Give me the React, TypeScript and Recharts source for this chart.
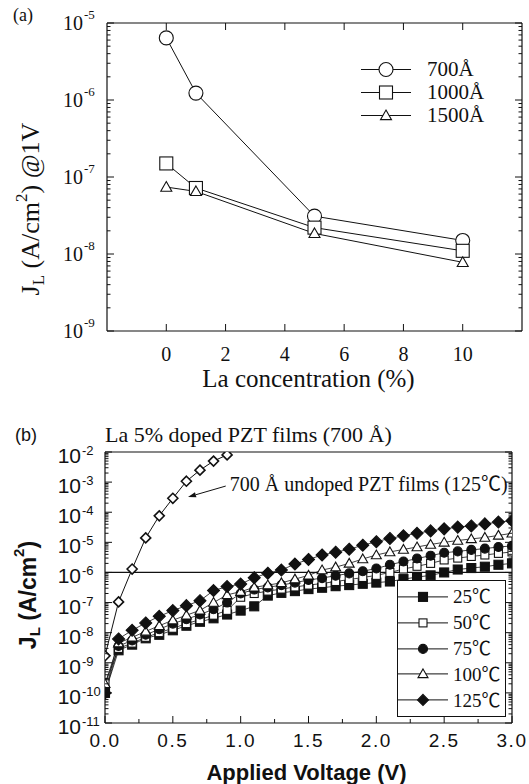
import React from "react";
import { LineChart, Line, XAxis, YAxis, Legend, ReferenceLine, Label } from "recharts";

const INK = "#111";
const SERIF = '"Liberation Serif", "Times New Roman", "Noto Sans CJK SC", serif';
const SANS = '"Liberation Sans", Arial, sans-serif';

// ---- (a) leakage current at 1V vs La content ----
const laConc = [0, 1, 5, 10];
const j700 = [6.4e-6, 1.23e-6, 3.1e-8, 1.5e-8];
const j1000 = [1.5e-7, 7.2e-8, 2.2e-8, 1.1e-8];
const j1500 = [7.4e-8, 6.5e-8, 1.85e-8, 7.8e-9];
const thickLabels = ["700Å", "1000Å", "1500Å"];
const aDecades = [1e-9, 1e-8, 1e-7, 1e-6, 1e-5];
const aXTicks = [0, 2, 4, 6, 8, 10];

// ---- (b) J-V of La 5% doped films at several temperatures ----
const voltage = [
  0, 0.1, 0.2, 0.3, 0.4, 0.5, 0.6, 0.7, 0.8, 0.9, 1.0, 1.1, 1.2, 1.3, 1.4, 1.5,
  1.6, 1.7, 1.8, 1.9, 2.0, 2.1, 2.2, 2.3, 2.4, 2.5, 2.6, 2.7, 2.8, 2.9, 3.0,
];
const t25 = [
  1e-10, 2.6e-9, 4e-9, 6.5e-9, 8.5e-9, 1.2e-8, 1.7e-8, 2.3e-8, 3e-8, 4e-8, 5.4e-8,
  7.5e-8, 1.7e-7, 2.1e-7, 2.4e-7, 2.8e-7, 3.1e-7, 3.5e-7, 3.8e-7, 4.2e-7, 4.6e-7,
  5e-7, 6e-7, 7e-7, 8e-7, 1e-6, 1.25e-6, 1.4e-6, 1.55e-6, 1.8e-6, 2e-6,
];
const t50 = [
  2e-10, 3e-9, 4.5e-9, 7e-9, 1e-8, 1.4e-8, 2e-8, 2.7e-8, 3.8e-8, 5.5e-8, 1.5e-7,
  2e-7, 2.4e-7, 2.8e-7, 3.3e-7, 3.8e-7, 4.3e-7, 5e-7, 5.8e-7, 6.8e-7, 8e-7, 1e-6,
  1.3e-6, 1.6e-6, 2e-6, 2.6e-6, 3e-6, 3.4e-6, 3.8e-6, 4.3e-6, 4.8e-6,
];
const t75 = [
  1e-10, 3.6e-9, 5.5e-9, 8.5e-9, 1.3e-8, 2e-8, 2.8e-8, 4e-8, 6e-8, 1e-7, 2e-7,
  2.7e-7, 3.2e-7, 3.8e-7, 4.6e-7, 5.6e-7, 6.5e-7, 7.8e-7, 9.3e-7, 1.1e-6, 1.35e-6,
  1.8e-6, 2.3e-6, 2.9e-6, 3.6e-6, 4.5e-6, 5e-6, 5.6e-6, 6.2e-6, 7e-6, 7.6e-6,
];
const t100 = [
  2e-10, 4.5e-9, 7e-9, 1.1e-8, 1.7e-8, 2.6e-8, 3.8e-8, 5.5e-8, 1e-7, 1.8e-7, 2.3e-7,
  3.2e-7, 3.8e-7, 4.5e-7, 6e-7, 8e-7, 1.2e-6, 1.5e-6, 2e-6, 2.8e-6, 3.8e-6, 4.8e-6,
  5.8e-6, 7e-6, 8.5e-6, 1e-5, 1.15e-5, 1.3e-5, 1.45e-5, 1.7e-5, 2e-5,
];
const t125 = [
  1e-10, 6.2e-9, 1.2e-8, 2.1e-8, 3.5e-8, 5.4e-8, 7.9e-8, 1.15e-7, 2.5e-7, 3.4e-7,
  4.1e-7, 6.7e-7, 9.4e-7, 1.2e-6, 1.9e-6, 2.7e-6, 3.8e-6, 4.7e-6, 5.9e-6, 8e-6,
  1.05e-5, 1.35e-5, 1.65e-5, 2e-5, 2.4e-5, 2.8e-5, 3.2e-5, 3.5e-5, 4.1e-5, 4.7e-5, 5.2e-5,
];
const tempLabels = ["25℃", "50℃", "75℃", "100℃", "125℃"];
const undopedV = [0, 0.1, 0.2, 0.3, 0.4, 0.5, 0.6, 0.7, 0.8, 0.9];
const undoped125 = [1.7e-9, 1.05e-7, 1.3e-6, 1.4e-5, 7.6e-5, 2.9e-4, 1.07e-3, 2.5e-3, 5e-3, 8e-3];
const bDecades = [1e-11, 1e-10, 1e-9, 1e-8, 1e-7, 1e-6, 1e-5, 1e-4, 1e-3, 1e-2];
const bXTicks = [0, 0.25, 0.5, 0.75, 1, 1.25, 1.5, 1.75, 2, 2.25, 2.5, 2.75, 3];

type ShapeName = "circle" | "square" | "triangle" | "diamond";

function Marker({ cx, cy, shape, size, filled, sw = 1.1 }: any) {
  if (cx == null || cy == null) return null;
  const fill = filled ? INK : "#fff";
  const s = size / 2;
  if (shape === "circle") return <circle cx={cx} cy={cy} r={s} fill={fill} stroke={INK} strokeWidth={sw} />;
  if (shape === "square")
    return <rect x={cx - s} y={cy - s} width={size} height={size} fill={fill} stroke={INK} strokeWidth={sw} />;
  if (shape === "triangle")
    return (
      <polygon
        points={`${cx},${cy - s} ${cx + s},${cy + s * 0.75} ${cx - s},${cy + s * 0.75}`}
        fill={fill}
        stroke={INK}
        strokeWidth={sw}
      />
    );
  return (
    <polygon
      points={`${cx},${cy - s} ${cx + s},${cy} ${cx},${cy + s} ${cx - s},${cy}`}
      fill={fill}
      stroke={INK}
      strokeWidth={sw}
    />
  );
}

const dotFn = (shape: ShapeName, size: number, filled: boolean, sw?: number) => (p: any) =>
  <Marker key={`d${p.index}`} cx={p.cx} cy={p.cy} shape={shape} size={size} filled={filled} sw={sw} />;

const logTicks = (decades: number[]) => {
  const out: number[] = [];
  decades.forEach((d, i) => {
    out.push(d);
    if (i < decades.length - 1) for (let k = 2; k <= 9; k++) out.push(d * k);
  });
  return out;
};
const isDecade = (v: number) => Math.abs(Math.log10(v) - Math.round(Math.log10(v))) < 1e-6;

function yLogTick(side: "left" | "right", o: any) {
  return (p: any) => {
    const { x, y, payload } = p;
    const v = payload.value;
    const dec = isDecade(v);
    const dir = side === "left" ? 1 : -1;
    const e = Math.round(Math.log10(v));
    return (
      <g>
        <line x1={x} x2={x + dir * (dec ? o.major : o.minor)} y1={y} y2={y} stroke={INK} strokeWidth={1} />
        {o.labels && dec && (
          <>
            <text x={x - 24} y={y + o.base} textAnchor="end" fontFamily={o.font} fontSize={o.size} fill={INK}>
              10
            </text>
            <text x={x - 23} y={y + o.supBase} textAnchor="start" fontFamily={o.font} fontSize={o.sup} fill={INK}>
              {`-${Math.abs(e)}`}
            </text>
          </>
        )}
      </g>
    );
  };
}

function xTick(side: "top" | "bottom", o: any) {
  return (p: any) => {
    const { x, y, payload } = p;
    const v = payload.value;
    const q = v / o.every;
    const maj = Math.abs(q - Math.round(q)) < 1e-6;
    const dir = side === "bottom" ? -1 : 1;
    return (
      <g>
        <line x1={x} x2={x} y1={y} y2={y + dir * (maj ? o.major : o.minor)} stroke={INK} strokeWidth={1} />
        {o.labels && maj && (
          <text
            x={x}
            y={y + o.base}
            textAnchor="middle"
            fontFamily={o.font}
            fontSize={o.size}
            letterSpacing={o.ls || 0}
            fill={INK}
          >
            {o.fmt(v)}
          </text>
        )}
      </g>
    );
  };
}

function LegendRows({ labels, shapes, fills, sizes, rowH, lineW, gap, font, fontSize }: any) {
  return (
    <div>
      {labels.map((lab: string, i: number) => (
        <div key={lab} style={{ display: "flex", alignItems: "center", height: rowH }}>
          <svg width={lineW} height={rowH} style={{ display: "block" }}>
            <line x1={0} x2={lineW} y1={rowH / 2} y2={rowH / 2} stroke={INK} strokeWidth={1} />
            <Marker cx={lineW / 2} cy={rowH / 2} shape={shapes[i]} size={sizes[i]} filled={fills[i]} />
          </svg>
          <span
            style={{ marginLeft: gap, fontFamily: font, fontSize, color: INK, lineHeight: 1, whiteSpace: "nowrap" }}
          >
            {lab}
          </span>
        </div>
      ))}
    </div>
  );
}

function PanelA() {
  const rows = laConc.map((x, i) => ({ x, a: j700[i], b: j1000[i], c: j1500[i] }));
  const yTicks = logTicks(aDecades);
  const yOpts = { major: 7, minor: 3.5, labels: true, font: SERIF, size: 20, sup: 13, base: 7, supBase: -4 };
  return (
    <LineChart width={529} height={400} data={rows} margin={{ top: 22, right: 6, left: 47, bottom: 29 }}>
      <XAxis
        dataKey="x"
        type="number"
        domain={[-2, 12]}
        ticks={aXTicks}
        interval={0}
        allowDataOverflow
        height={40}
        tickSize={0}
        tickMargin={0}
        tickLine={false}
        axisLine={{ stroke: INK, strokeWidth: 1.2 }}
        tick={xTick("bottom", { every: 2, major: 7, minor: 4, labels: true, font: SERIF, size: 20, base: 30, fmt: (v: number) => `${v}` })}
      >
        <Label
          content={({ viewBox }: any) => (
            <text x={viewBox.x + viewBox.width / 2 - 6} y={viewBox.y + 56} textAnchor="middle" fontFamily={SERIF} fontSize={25} fill={INK}>
              La concentration (%)
            </text>
          )}
        />
      </XAxis>
      <XAxis
        xAxisId="top"
        orientation="top"
        dataKey="x"
        type="number"
        domain={[-2, 12]}
        ticks={aXTicks}
        interval={0}
        height={1}
        tickSize={0}
        tickMargin={0}
        tickLine={false}
        axisLine={{ stroke: INK, strokeWidth: 1.2 }}
        tick={xTick("top", { every: 2, major: 7, minor: 4, labels: false })}
      >
        <Label
          content={() => (
            <text x={13} y={21} fontFamily={SERIF} fontSize={18} fill={INK}>
              (a)
            </text>
          )}
        />
      </XAxis>
      <YAxis
        scale="log"
        type="number"
        domain={[1e-9, 1e-5]}
        allowDataOverflow
        ticks={yTicks}
        interval={0}
        width={60}
        tickSize={0}
        tickMargin={0}
        tickLine={false}
        axisLine={{ stroke: INK, strokeWidth: 1.2 }}
        tick={yLogTick("left", yOpts)}
      >
        <Label
          content={({ viewBox }: any) => {
            const cx = 33;
            const cy = viewBox.y + viewBox.height / 2 + 32;
            return (
              <text x={cx} y={cy} transform={`rotate(-90 ${cx} ${cy})`} textAnchor="middle" fontFamily={SERIF} fontSize={26} fill={INK} dominantBaseline="middle">
                J<tspan dy={7} fontSize={17}>L</tspan>
                <tspan dy={-7}> (A/cm</tspan>
                <tspan dy={-10} fontSize={17}>2</tspan>
                <tspan dy={10}>) @1V</tspan>
              </text>
            );
          }}
        />
      </YAxis>
      <YAxis
        yAxisId="right"
        orientation="right"
        scale="log"
        type="number"
        domain={[1e-9, 1e-5]}
        allowDataOverflow
        ticks={yTicks}
        interval={0}
        width={1}
        tickSize={0}
        tickMargin={0}
        tickLine={false}
        axisLine={{ stroke: INK, strokeWidth: 1.2 }}
        tick={yLogTick("right", { ...yOpts, labels: false })}
      />
      <Legend
        layout="vertical"
        align="center"
        verticalAlign="middle"
        wrapperStyle={{ left: 361, top: 58, width: 150 }}
        content={() => (
          <LegendRows
            labels={thickLabels}
            shapes={["circle", "square", "triangle"]}
            fills={[false, false, false]}
            sizes={[14, 13, 11]}
            rowH={23}
            lineW={50}
            gap={16}
            font={SERIF}
            fontSize={21}
          />
        )}
      />
      <Line dataKey="a" name={thickLabels[0]} stroke={INK} strokeWidth={1} isAnimationActive={false} dot={dotFn("circle", 14, false)} />
      <Line dataKey="b" name={thickLabels[1]} stroke={INK} strokeWidth={1} isAnimationActive={false} dot={dotFn("square", 13, false)} />
      <Line dataKey="c" name={thickLabels[2]} stroke={INK} strokeWidth={1} isAnimationActive={false} dot={dotFn("triangle", 11, false)} />
    </LineChart>
  );
}

function PanelB() {
  const series = [t25, t50, t75, t100, t125];
  const shapes: ShapeName[] = ["square", "square", "circle", "triangle", "diamond"];
  const fills = [true, false, true, false, true];
  const sizes = [9, 8, 9, 10, 12];
  const toRows = (xs: number[], ys: number[]) => xs.map((v, i) => ({ v, j: ys[i] }));
  const yTicks = logTicks(bDecades);
  const yOpts = { major: 7, minor: 3.5, labels: true, font: SANS, size: 21, sup: 13, base: 11, supBase: 3 };
  return (
    <LineChart width={529} height={384} margin={{ top: 51, right: 16, left: 45, bottom: 21 }}>
      <XAxis
        dataKey="v"
        type="number"
        domain={[0, 3]}
        ticks={bXTicks}
        interval={0}
        allowDataOverflow
        height={40}
        tickSize={0}
        tickMargin={0}
        tickLine={false}
        axisLine={{ stroke: INK, strokeWidth: 1.2 }}
        tick={xTick("bottom", { every: 0.5, major: 7, minor: 4, labels: true, font: SANS, size: 19, ls: 1.5, base: 24, fmt: (v: number) => v.toFixed(1) })}
      >
        <Label
          content={({ viewBox }: any) => (
            <text x={viewBox.x + viewBox.width / 2 - 2} y={viewBox.y + 57} textAnchor="middle" fontFamily={SANS} fontWeight="bold" fontSize={22} fill={INK}>
              Applied Voltage (V)
            </text>
          )}
        />
      </XAxis>
      <XAxis
        xAxisId="top"
        orientation="top"
        dataKey="v"
        type="number"
        domain={[0, 3]}
        ticks={bXTicks}
        interval={0}
        height={1}
        tickSize={0}
        tickMargin={0}
        tickLine={false}
        axisLine={{ stroke: INK, strokeWidth: 1.2 }}
        tick={xTick("top", { every: 0.5, major: 7, minor: 4, labels: false })}
      >
        <Label
          content={({ viewBox }: any) => (
            <g>
              <text x={15} y={viewBox.y - 10} fontFamily={SANS} fontSize={18} fill={INK}>
                (b)
              </text>
              <text x={viewBox.x} y={viewBox.y - 9} fontFamily={SERIF} fontSize={22} fill={INK}>
                La 5% doped PZT films (700 Å)
              </text>
            </g>
          )}
        />
      </XAxis>
      <YAxis
        dataKey="j"
        scale="log"
        type="number"
        domain={[1e-11, 1e-2]}
        allowDataOverflow
        ticks={yTicks}
        interval={0}
        width={60}
        tickSize={0}
        tickMargin={0}
        tickLine={false}
        axisLine={{ stroke: INK, strokeWidth: 1.2 }}
        tick={yLogTick("left", yOpts)}
      >
        <Label
          content={({ viewBox }: any) => {
            const cx = 30;
            const cy = viewBox.y + 143;
            return (
              <text x={cx} y={cy} transform={`rotate(-90 ${cx} ${cy})`} textAnchor="middle" fontFamily={SANS} fontWeight="bold" fontSize={23} fill={INK} dominantBaseline="middle">
                J<tspan dy={6} fontSize={15}>L</tspan>
                <tspan dy={-6}> (A/cm</tspan>
                <tspan dy={-10} fontSize={15}>2</tspan>
                <tspan dy={10}>)</tspan>
              </text>
            );
          }}
        />
      </YAxis>
      <YAxis
        yAxisId="right"
        orientation="right"
        dataKey="j"
        scale="log"
        type="number"
        domain={[1e-11, 1e-2]}
        allowDataOverflow
        ticks={yTicks}
        interval={0}
        width={1}
        tickSize={0}
        tickMargin={0}
        tickLine={false}
        axisLine={{ stroke: INK, strokeWidth: 1.2 }}
        tick={yLogTick("right", { ...yOpts, labels: false })}
      />
      <ReferenceLine y={1e-6} stroke={INK} strokeWidth={1.2} />
      <ReferenceLine
        segment={[
          { x: 0.89, y: 7.4e-4 },
          { x: 0.612, y: 3.2e-4 },
        ]}
        shape={(p: any) => {
          const { x1, y1, x2, y2 } = p;
          const a = Math.atan2(y2 - y1, x2 - x1);
          const L = 8;
          const W = 2.6;
          const bx = x2 - L * Math.cos(a);
          const by = y2 - L * Math.sin(a);
          const nx = -Math.sin(a) * W;
          const ny = Math.cos(a) * W;
          return (
            <g>
              <line x1={x1} y1={y1} x2={bx} y2={by} stroke={INK} strokeWidth={1} />
              <polygon points={`${x2},${y2} ${bx + nx},${by + ny} ${bx - nx},${by - ny}`} fill={INK} />
              <text x={x1 + 4} y={y1 + 5} fontFamily={SERIF} fontSize={20} fill={INK}>
                700 Å undoped PZT films (125℃)
              </text>
            </g>
          );
        }}
      />
      <Line
        data={toRows(undopedV, undoped125)}
        dataKey="j"
        name="undoped"
        stroke={INK}
        strokeWidth={1}
        isAnimationActive={false}
        dot={dotFn("diamond", 10, false, 1.6)}
        legendType="none"
      />
      {series.map((ys, k) => (
        <Line
          key={tempLabels[k]}
          data={toRows(voltage, ys)}
          dataKey="j"
          name={tempLabels[k]}
          stroke={INK}
          strokeWidth={0.8}
          isAnimationActive={false}
          dot={dotFn(shapes[k], sizes[k], fills[k])}
        />
      ))}
      <Legend
        layout="vertical"
        align="center"
        verticalAlign="middle"
        wrapperStyle={{ left: 397, top: 180, width: 109, height: 137, boxSizing: "border-box", border: `1px solid ${INK}`, background: "#fff", paddingTop: 3 }}
        content={() => (
          <LegendRows
            labels={tempLabels}
            shapes={shapes}
            fills={fills}
            sizes={[9, 8, 9, 10, 11]}
            rowH={25.8}
            lineW={50}
            gap={5}
            font={SERIF}
            fontSize={19}
          />
        )}
      />
    </LineChart>
  );
}

export default function App() {
  return (
    <div style={{ position: "absolute", left: 0, top: 0, width: 529, height: 784, background: "#fff" }}>
      <PanelA />
      <PanelB />
    </div>
  );
}
